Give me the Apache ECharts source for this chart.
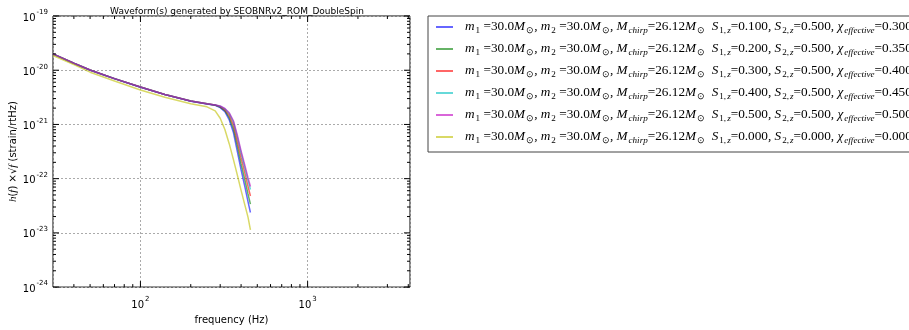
<!DOCTYPE html>
<html><head><meta charset="utf-8">
<script src="https://cdn.jsdelivr.net/npm/echarts@6/dist/echarts.min.js"></script>
<style>html,body{margin:0;padding:0;background:#fff}#c{width:909px;height:330px}</style>
</head><body><div id="c"></div>
<script>
// ---- data ----
const freqs = [30,40,50,70,100,140,200,250,280,300,320,340,360,380,400,420,440,455];
const hS1_010 = [1.98e-20,1.33e-20,1.00e-20,6.94e-21,4.86e-21,3.55e-21,2.67e-21,2.37e-21,2.26e-21,2.04e-21,1.72e-21,1.21e-21,7.08e-22,3.16e-22,1.46e-22,7.43e-23,3.78e-23,2.38e-23];
const hS1_020 = [2.00e-20,1.343e-20,1.012e-20,7.00e-21,4.91e-21,3.58e-21,2.70e-21,2.40e-21,2.27e-21,2.09e-21,1.80e-21,1.33e-21,8.32e-22,3.98e-22,1.87e-22,9.91e-23,5.22e-23,3.40e-23];
const hS1_030 = [2.00e-20,1.343e-20,1.012e-20,7.00e-21,4.91e-21,3.58e-21,2.70e-21,2.40e-21,2.28e-21,2.13e-21,1.87e-21,1.47e-21,9.77e-22,4.90e-22,2.44e-22,1.32e-22,7.21e-23,4.80e-23];
const hS1_040 = [2.00e-20,1.343e-20,1.012e-20,7.00e-21,4.91e-21,3.58e-21,2.70e-21,2.40e-21,2.29e-21,2.17e-21,1.94e-21,1.58e-21,1.11e-21,5.82e-22,2.97e-22,1.64e-22,9.29e-23,6.32e-23];
const hS1_050 = [2.00e-20,1.343e-20,1.012e-20,7.00e-21,4.91e-21,3.58e-21,2.70e-21,2.40e-21,2.29e-21,2.19e-21,1.97e-21,1.64e-21,1.17e-21,6.31e-22,3.26e-22,1.82e-22,1.04e-22,7.18e-23];
const hS1_000 = [1.87e-20,1.27e-20,9.20e-21,6.32e-21,4.33e-21,3.17e-21,2.41e-21,2.11e-21,1.78e-21,1.30e-21,8.09e-22,4.37e-22,2.24e-22,1.16e-22,6.08e-23,3.40e-23,1.95e-23,1.14e-23];
const seriesValues = [hS1_010,hS1_020,hS1_030,hS1_040,hS1_050,hS1_000];
const m1Labels = ['30.0','30.0','30.0','30.0','30.0','30.0'];
const m2Labels = ['30.0','30.0','30.0','30.0','30.0','30.0'];
const mchirpLabels = ['26.12','26.12','26.12','26.12','26.12','26.12'];
const s1zLabels = ['0.100','0.200','0.300','0.400','0.500','0.000'];
const s2zLabels = ['0.500','0.500','0.500','0.500','0.500','0.000'];
const chiLabels = ['0.300','0.350','0.400','0.450','0.500','0.000'];
const xMin = 30, xMax = 4096;
const yMin = 1e-24, yMax = 1e-19;
const xMajorTicks = [100,1000];
const xMinorTicks = [40,50,60,70,80,90,200,300,400,500,600,700,800,900,2000,3000,4000];
const yDecades = [1e-24,1e-23,1e-22,1e-21,1e-20,1e-19];

// ECharts' log axis breaks on values this small, so values are plotted in units of 1e-24 strain
const Y_UNIT = 1e-24;
const toY = v => v / Y_UNIT;

// ---- styles ----
const colors = ['rgba(0,0,255,0.6)','rgba(0,128,0,0.6)','rgba(255,0,0,0.6)','rgba(0,191,191,0.6)','rgba(191,0,191,0.6)','rgba(191,191,0,0.6)'];
const names = s1zLabels.map((s,i)=>'m1=30.0, m2=30.0, Mchirp=26.12, S1z='+s+', S2z='+s2zLabels[i]+', chi='+chiLabels[i]);

const serif = 'Liberation Serif';
const FS = 13.25, SFS = 9.1;
const legendRich = {
  sp:{width:7},
  mi:{fontFamily:serif,fontStyle:'italic',fontSize:FS,color:'#000',lineHeight:16},
  n:{fontFamily:serif,fontSize:FS,color:'#000',lineHeight:16},
  sb:{fontFamily:serif,fontSize:SFS,color:'#000',lineHeight:16,verticalAlign:'bottom',padding:[0,0,0,1]},
  sbi:{fontFamily:serif,fontStyle:'italic',fontSize:SFS,color:'#000',lineHeight:16,verticalAlign:'bottom',padding:[0,0,0,1]}
};
function legendText(i){
  return '{sp|}{mi|m}{sb|1}{n| =' + m1Labels[i] + '}{mi|M}{sb|⊙}{n|, }' +
    '{mi|m}{sb|2}{n| =' + m2Labels[i] + '}{mi|M}{sb|⊙}{n|, }' +
    '{mi|M}{sbi|chirp}{n|=' + mchirpLabels[i] + '}{mi|M}{sb|⊙}{n|  }' +
    '{mi|S}{sb|1,}{sbi|z}{n|=' + s1zLabels[i] + ', }' +
    '{mi|S}{sb|2,}{sbi|z}{n|=' + s2zLabels[i] + ', }' +
    '{mi|χ}{sbi|effective}{n|=' + chiLabels[i] + '}';
}
function powLabel(e){ return '{b|10}{e|' + e + '}'; }
function xLabel(v){
  const e = Math.log10(v);
  return Math.abs(e - Math.round(e)) < 1e-6 ? powLabel(Math.round(e)) : '';
}
function yLabel(v){
  const e = Math.log10(v * Y_UNIT);
  return Math.abs(e - Math.round(e)) < 1e-6 ? powLabel(Math.round(e)) : '';
}
const axisRich = {
  b:{fontFamily:'DejaVu Sans',fontSize:10,color:'#000',lineHeight:14,verticalAlign:'bottom'},
  e:{fontFamily:'DejaVu Sans',fontSize:7,color:'#000',lineHeight:14,verticalAlign:'top',padding:[0,0,0,1]}
};

const chart = echarts.init(document.getElementById('c'), null, {renderer:'canvas'});
const lineSeries = seriesValues.map((vals,i)=>({
  name: names[i], type:'line', data: freqs.map((f,j)=>[f, toY(vals[j])]),
  showSymbol:false, symbol:'none', smooth:false,
  lineStyle:{color:colors[i], width:1.5}, itemStyle:{color:colors[i]},
  z: 3
}));

const yTickData = [];
yDecades.forEach((d,k)=>{
  yTickData.push([xMin, toY(d), 1]);
  if (k < yDecades.length-1) for (let m=2;m<=9;m++) yTickData.push([xMin, toY(d*m), 0]);
});
const xTickData = xMajorTicks.map(v=>[v,toY(yMin),1]).concat(xMinorTicks.map(v=>[v,toY(yMin),0]));

const tickSeriesX = {
  type:'custom', silent:true, clip:false, z:5,
  data: xTickData,
  renderItem(params, api){
    const f = api.value(0); const L = api.value(2) ? 6 : 3;
    const b = api.coord([f, toY(yMin)]); const t = api.coord([f, toY(yMax)]);
    return {type:'group', children:[
      {type:'line', shape:{x1:b[0],y1:b[1],x2:b[0],y2:b[1]-L}, style:{stroke:'#000',lineWidth:1}},
      {type:'line', shape:{x1:t[0],y1:t[1],x2:t[0],y2:t[1]+L}, style:{stroke:'#000',lineWidth:1}}
    ]};
  }
};
const tickSeriesY = {
  type:'custom', silent:true, clip:false, z:5,
  data: yTickData,
  renderItem(params, api){
    const v = api.value(1); const L = api.value(2) ? 6 : 3;
    const l = api.coord([xMin, v]); const r = api.coord([xMax, v]);
    return {type:'group', children:[
      {type:'line', shape:{x1:l[0],y1:l[1],x2:l[0]+L,y2:l[1]}, style:{stroke:'#000',lineWidth:1}},
      {type:'line', shape:{x1:r[0],y1:r[1],x2:r[0]-L,y2:r[1]}, style:{stroke:'#000',lineWidth:1}}
    ]};
  }
};

chart.setOption({
  animation:false,
  backgroundColor:'#fff',
  title:{text:'Waveform(s) generated by SEOBNRv2_ROM_DoubleSpin', left:232, top:2, textAlign:'center',
    textStyle:{fontFamily:'DejaVu Sans',fontSize:9,fontWeight:'normal',color:'#000'}},
  grid:{left:53, right:499, top:16, bottom:36, show:true, borderColor:'#000', borderWidth:1, backgroundColor:'transparent'},
  legend:{
    orient:'vertical', left:428, top:16, itemWidth:17, itemHeight:2, itemGap:6, icon:'rect',
    padding:[3,0,7,8], borderColor:'#444', borderWidth:1, backgroundColor:'#fff',
    data:names, formatter:(name)=>legendText(names.indexOf(name)),
    textStyle:{rich:legendRich, lineHeight:16},
    selectedMode:false
  },
  xAxis:{type:'log', logBase:10, min:xMin, max:xMax,
    name:'frequency (Hz)', nameLocation:'middle', nameGap:27,
    nameTextStyle:{fontFamily:'DejaVu Sans',fontSize:10,color:'#000'},
    axisLine:{show:false}, axisTick:{show:false},
    axisLabel:{formatter:xLabel, margin:9, rich:axisRich, showMinLabel:false, showMaxLabel:false},
    splitLine:{show:true, lineStyle:{color:'#aaa', type:[2,2], width:1}}
  },
  yAxis:{type:'log', logBase:10, min:toY(yMin), max:toY(yMax),
    name:'{i|h}{n|(}{i|f}{n|) ×√}{i|f}{n| (strain/rtHz)}', nameLocation:'middle', nameGap:34, nameRotate:90,
    nameTextStyle:{color:'#000', rich:{
      i:{fontFamily:serif,fontStyle:'italic',fontSize:11,color:'#000'},
      n:{fontFamily:'DejaVu Sans',fontSize:10,color:'#000'}}},
    axisLine:{show:false}, axisTick:{show:false},
    axisLabel:{formatter:yLabel, margin:5, rich:axisRich},
    splitLine:{show:true, lineStyle:{color:'#aaa', type:[2,2], width:1}}
  },
  series: lineSeries.concat([tickSeriesX, tickSeriesY])
});
</script></body></html>
